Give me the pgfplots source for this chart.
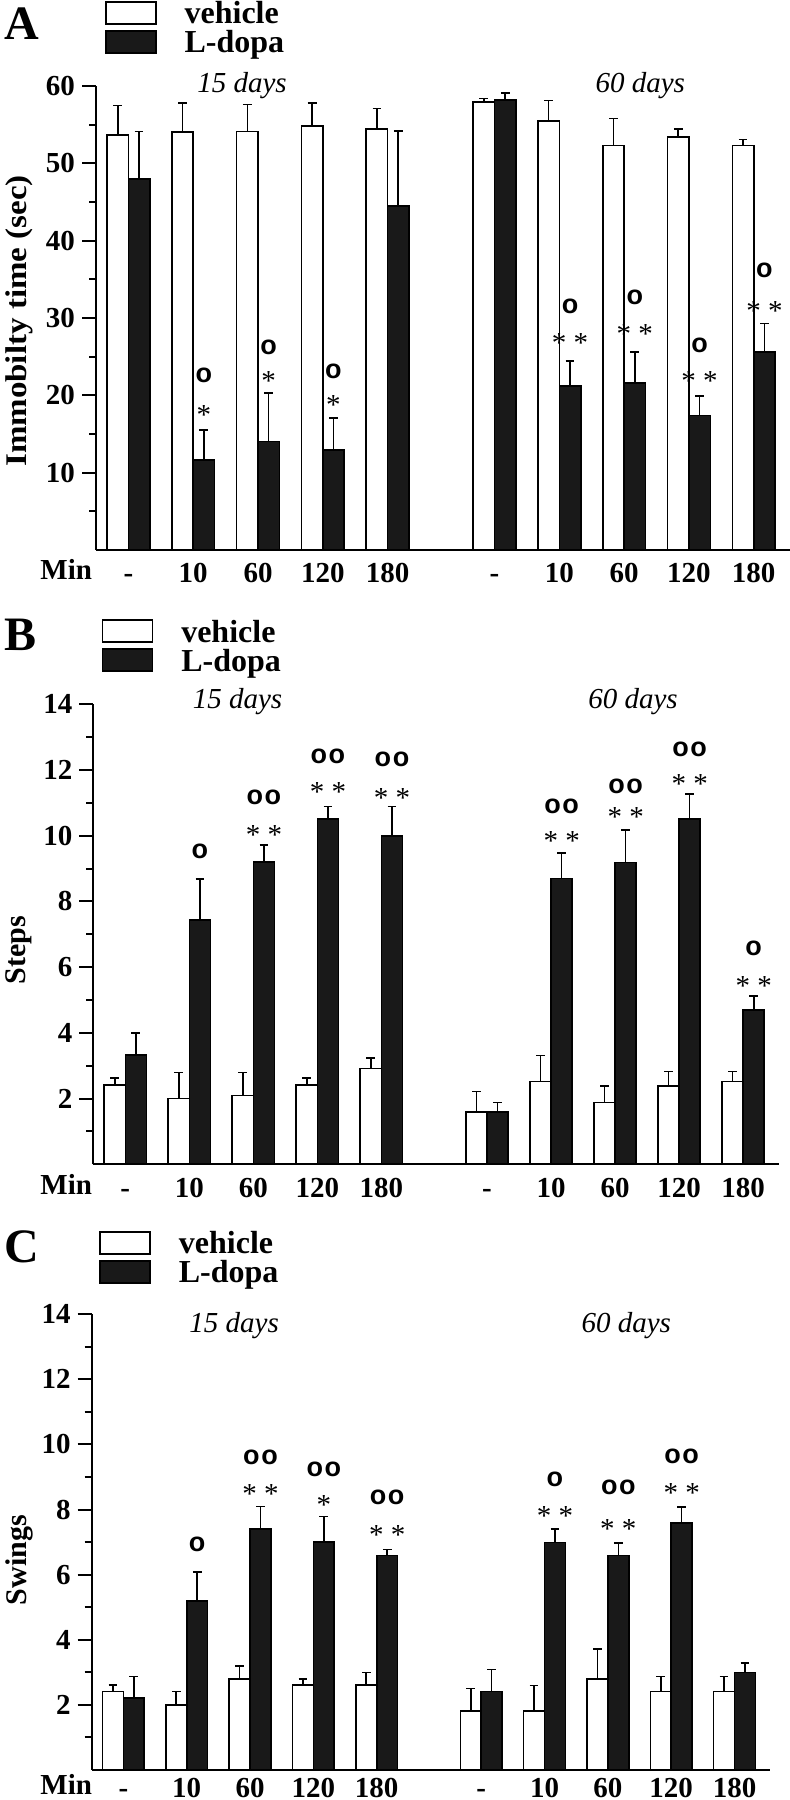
\documentclass[border=0pt]{standalone}
\usepackage{fontspec}
\setmainfont{Liberation Serif}
\newfontfamily\circfont{Liberation Sans}
\usepackage{pgfplots}
\pgfplotsset{compat=1.18}

\pgfplotsset{
  panel/.style={
    scale only axis, anchor=south west, clip=false,
    axis lines*=left, enlargelimits=false,
    xmin=-0.5, xmax=10.21, ymin=0,
    axis line style={line width=1bp, black},
    xtick={0,1,2,3,4,5.65,6.65,7.65,8.65,9.65},
    xticklabels={-,10,60,120,180,-,10,60,120,180},
    x tick style={draw=none},
    y tick style={line width=1bp, black},
    tick align=outside,
    major tick length=7bp, minor tick length=3.5bp,
    ticklabel style={font=\bfseries\fontsize{14.5bp}{14.5bp}\selectfont},
    /pgf/number format/assume math mode=true,
    yticklabel style={anchor=east},
    legend image code/.code={\draw[#1] (0bp,-5.5bp) rectangle (25bp,5.5bp);},
    legend cell align=left,
    legend style={draw=none, fill=none, inner sep=0pt, outer sep=0pt,
      anchor=north west, row sep=2.8bp,
      /tikz/every odd column/.append style={column sep=14bp},
      nodes={text height=11bp, text depth=0pt, inner sep=0pt,
        font=\bfseries\fontsize{16bp}{16bp}\selectfont}},
  },
  veh/.style={ybar, bar width=0.33, bar shift=0, fill=white, draw=black,
    line width=0.8bp,
    error bars/.cd, y dir=plus, y explicit,
    error bar style={line width=0.8bp, black},
    error mark options={rotate=90, line width=0.8bp, mark size=2.2bp, black}},
  dop/.style={ybar, bar width=0.33, bar shift=0, fill=black!90, draw=black,
    line width=0.8bp,
    error bars/.cd, y dir=plus, y explicit,
    error bar style={line width=0.8bp, black},
    error mark options={rotate=90, line width=0.8bp, mark size=2.2bp, black}},
}
\tikzset{
  ast/.style={font=\fontsize{14.5bp}{14.5bp}\selectfont, inner sep=0pt, yshift=-2.3bp},
  circ/.style={font=\circfont\bfseries\fontsize{13.5bp}{13.5bp}\selectfont, inner sep=0pt},
  days/.style={font=\itshape\fontsize{14.5bp}{14.5bp}\selectfont, anchor=base, inner sep=0pt},
}
\newcommand{\oo}{o\kern0.8bp o}

\begin{document}
\begin{tikzpicture}
\path[use as bounding box] (0bp,0bp) rectangle (395bp,900bp);

% ---------------- Panel A ----------------
\begin{axis}[panel, at={(48bp,625bp)}, width=347bp, height=232bp,
  xticklabel style={anchor=base, yshift=-9.5bp},
  ymax=60, ytick={10,20,...,60}, minor ytick={5,15,...,55},
  legend style={at={(0.013,1.1832)}}]
\addplot[veh] coordinates {
 (-0.165,53.7) +- (0,3.8) (0.835,54.05) +- (0,3.75) (1.835,54.1) +- (0,3.5) (2.835,54.8) +- (0,3.0) (3.835,54.4) +- (0,2.7)
 (5.485,57.9) +- (0,0.5) (6.485,55.5) +- (0,2.6) (7.485,52.3) +- (0,3.5) (8.485,53.4) +- (0,1.0) (9.485,52.3) +- (0,0.8)};
\addplot[dop] coordinates {
 (0.165,48.0) +- (0,6.1) (1.165,11.6) +- (0,3.9) (2.165,14.05) +- (0,6.25) (3.165,12.9) +- (0,4.2) (4.165,44.5) +- (0,9.7)
 (5.815,58.2) +- (0,0.9) (6.815,21.2) +- (0,3.2) (7.815,21.6) +- (0,4.0) (8.815,17.4) +- (0,2.5) (9.815,25.6) +- (0,3.7)};
\legend{vehicle, L-dopa}
\node[days] at (axis cs:1.753,59.2) {15 days};
\node[days] at (axis cs:7.9,59.2) {60 days};
\node[ast] at (axis cs:1.165,18.1) {*};
\node[circ] at (axis cs:1.165,22.6) {o};
\node[ast] at (axis cs:2.165,22.4) {*};
\node[circ] at (axis cs:2.165,26.2) {o};
\node[ast] at (axis cs:3.165,19.3) {*};
\node[circ] at (axis cs:3.165,23.1) {o};
\node[ast] at (axis cs:6.815,27.3) {* *};
\node[circ] at (axis cs:6.815,31.5) {o};
\node[ast] at (axis cs:7.815,28.5) {* *};
\node[circ] at (axis cs:7.815,32.7) {o};
\node[ast] at (axis cs:8.815,22.4) {* *};
\node[circ] at (axis cs:8.815,26.4) {o};
\node[ast] at (axis cs:9.815,31.5) {* *};
\node[circ] at (axis cs:9.815,36.2) {o};
\end{axis}

% ---------------- Panel B ----------------
\begin{axis}[panel, at={(46.65bp,317.85bp)}, width=342.85bp, height=230bp,
  xticklabel style={anchor=base, yshift=-9.5bp},
  ymax=14, ytick={2,4,...,14}, minor ytick={1,3,...,13},
  legend style={at={(0.0122,1.1848)}}]
\addplot[veh] coordinates {
 (-0.165,2.41) +- (0,0.21) (0.835,2.0) +- (0,0.79) (1.835,2.09) +- (0,0.70) (2.835,2.41) +- (0,0.21) (3.835,2.92) +- (0,0.31)
 (5.485,1.60) +- (0,0.61) (6.485,2.52) +- (0,0.79) (7.485,1.88) +- (0,0.51) (8.485,2.39) +- (0,0.43) (9.485,2.52) +- (0,0.30)};
\addplot[dop] coordinates {
 (0.165,3.33) +- (0,0.66) (1.165,7.43) +- (0,1.25) (2.165,9.2) +- (0,0.51) (3.165,10.5) +- (0,0.39) (4.165,9.99) +- (0,0.90)
 (5.815,1.60) +- (0,0.28) (6.815,8.70) +- (0,0.78) (7.815,9.19) +- (0,0.98) (8.815,10.51) +- (0,0.76) (9.815,4.70) +- (0,0.42)};
\legend{vehicle, L-dopa}
\node[days] at (axis cs:1.753,13.87) {15 days};
\node[days] at (axis cs:7.93,13.87) {60 days};
\node[circ] at (axis cs:1.165,9.53) {o};
\node[ast] at (axis cs:2.165,10.17) {* *};
\node[circ] at (axis cs:2.165,11.17) {\oo};
\node[ast] at (axis cs:3.165,11.46) {* *};
\node[circ] at (axis cs:3.165,12.4) {\oo};
\node[ast] at (axis cs:4.165,11.3) {* *};
\node[circ] at (axis cs:4.165,12.33) {\oo};
\node[ast] at (axis cs:6.815,9.99) {* *};
\node[circ] at (axis cs:6.815,10.88) {\oo};
\node[ast] at (axis cs:7.815,10.7) {* *};
\node[circ] at (axis cs:7.815,11.5) {\oo};
\node[ast] at (axis cs:8.815,11.72) {* *};
\node[circ] at (axis cs:8.815,12.63) {\oo};
\node[ast] at (axis cs:9.815,5.58) {* *};
\node[circ] at (axis cs:9.815,6.57) {o};
\end{axis}

% ---------------- Panel C ----------------
\begin{axis}[panel, at={(45.85bp,15bp)}, width=339.15bp, height=227.85bp,
  xticklabel style={anchor=base, yshift=-6.5bp},
  ymax=14, ytick={2,4,...,14}, minor ytick={1,3,...,13},
  legend style={at={(0.0112,1.1828)}}]
\addplot[veh] coordinates {
 (-0.165,2.41) +- (0,0.20) (0.835,2.0) +- (0,0.41) (1.835,2.79) +- (0,0.41) (2.835,2.61) +- (0,0.19) (3.835,2.61) +- (0,0.39)
 (5.485,1.82) +- (0,0.69) (6.485,1.82) +- (0,0.77) (7.485,2.80) +- (0,0.91) (8.485,2.41) +- (0,0.46) (9.485,2.41) +- (0,0.46)};
\addplot[dop] coordinates {
 (0.165,2.21) +- (0,0.66) (1.165,5.2) +- (0,0.89) (2.165,7.41) +- (0,0.68) (3.165,7.0) +- (0,0.79) (4.165,6.59) +- (0,0.19)
 (5.815,2.41) +- (0,0.68) (6.815,6.99) +- (0,0.41) (7.815,6.59) +- (0,0.38) (8.815,7.58) +- (0,0.50) (9.815,3.0) +- (0,0.28)};
\legend{vehicle, L-dopa}
\node[days] at (axis cs:1.75,13.44) {15 days};
\node[days] at (axis cs:7.94,13.44) {60 days};
\node[circ] at (axis cs:1.165,6.92) {o};
\node[ast] at (axis cs:2.165,8.62) {* *};
\node[circ] at (axis cs:2.165,9.61) {\oo};
\node[ast] at (axis cs:3.165,8.29) {*};
\node[circ] at (axis cs:3.165,9.23) {\oo};
\node[ast] at (axis cs:4.165,7.36) {* *};
\node[circ] at (axis cs:4.165,8.39) {\oo};
\node[ast] at (axis cs:6.815,7.93) {* *};
\node[circ] at (axis cs:6.815,8.94) {o};
\node[ast] at (axis cs:7.815,7.56) {* *};
\node[circ] at (axis cs:7.815,8.67) {\oo};
\node[ast] at (axis cs:8.815,8.65) {* *};
\node[circ] at (axis cs:8.815,9.62) {\oo};
\end{axis}

% ---------------- panel letters, Min, y labels ----------------
\begin{scope}[every node/.style={inner sep=0pt}]
\node[anchor=base west, font=\bfseries\fontsize{24bp}{24bp}\selectfont] at (2bp,880bp) {A};
\node[anchor=base west, font=\bfseries\fontsize{24bp}{24bp}\selectfont] at (2bp,574.6bp) {B};
\node[anchor=base west, font=\bfseries\fontsize{24bp}{24bp}\selectfont] at (2bp,268.5bp) {C};
\node[anchor=base west, font=\bfseries\fontsize{14.5bp}{14.5bp}\selectfont] at (20bp,610bp) {Min};
\node[anchor=base west, font=\bfseries\fontsize{14.5bp}{14.5bp}\selectfont] at (20bp,302.85bp) {Min};
\node[anchor=base west, font=\bfseries\fontsize{14.5bp}{14.5bp}\selectfont] at (20bp,3bp) {Min};
\node[rotate=90, font=\bfseries\fontsize{15bp}{15bp}\selectfont] at (9.5bp,739.5bp) {\scalebox{1.1}[1]{Immobilty time (sec)}};
\node[rotate=90, font=\bfseries\fontsize{15bp}{15bp}\selectfont] at (9.5bp,425bp) {Steps};
\node[rotate=90, font=\bfseries\fontsize{15bp}{15bp}\selectfont] at (9.5bp,120bp) {Swings};
\end{scope}
\end{tikzpicture}
\end{document}
